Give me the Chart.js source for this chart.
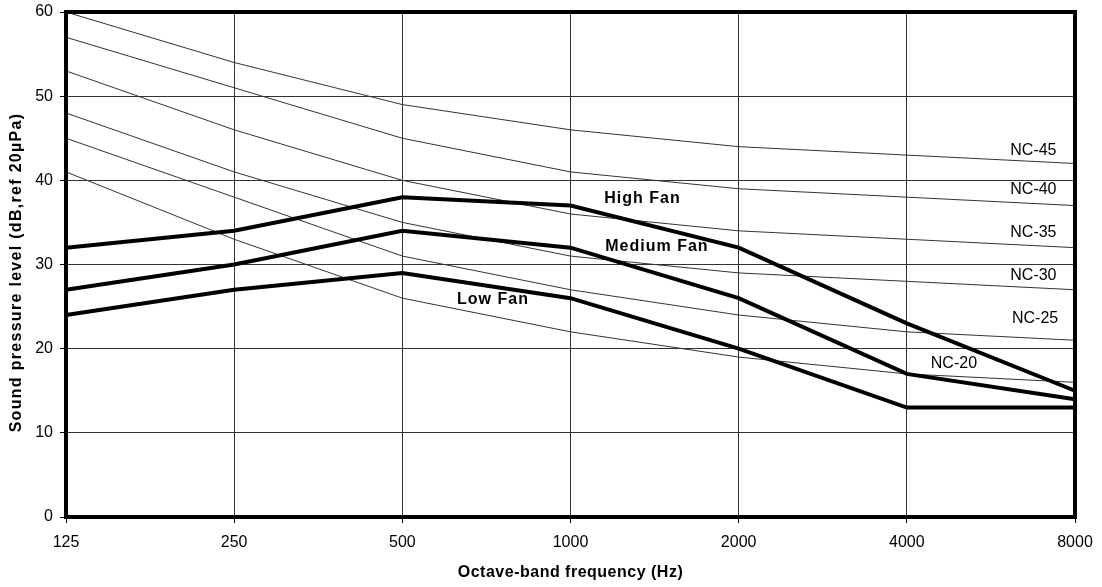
<!DOCTYPE html>
<html><head><meta charset="utf-8">
<script src="https://cdn.jsdelivr.net/npm/chart.js@4/dist/chart.umd.min.js"></script>
<style>html,body{margin:0;padding:0;background:#fff}#wrap{width:1102px;height:587px}</style>
</head><body><div id="wrap"><canvas id="c" width="1102" height="587"></canvas></div>
<script>
// ---- data ----
const frequencies = ['125', '250', '500', '1000', '2000', '4000', '8000'];
const yTicks = [0, 10, 20, 30, 40, 50, 60];

const nc45 = [60, 54, 49, 46, 44, 43, 42];
const nc40 = [57, 51, 45, 41, 39, 38, 37];
const nc35 = [53, 46, 40, 36, 34, 33, 32];
const nc30 = [48, 41, 35, 31, 29, 28, 27];
const nc25 = [45, 38, 31, 27, 24, 22, 21];
const nc20 = [41, 33, 26, 22, 19, 17, 16];

const highFan = [32, 34, 38, 37, 32, 23, 15];
const mediumFan = [27, 30, 34, 32, 26, 17, 14];
const lowFan = [24, 27, 29, 26, 20, 13, 13];

const xTitle = 'Octave-band frequency (Hz)';
const yTitle = 'Sound pressure level (dB,ref 20µPa)';

// text labels placed in data coordinates (x = category index, y = dB)
const curveLabels = [
  { text: 'High Fan', x: 3.428, y: 37.86, bold: true, align: 'center' },
  { text: 'Medium Fan', x: 3.514, y: 32.11, bold: true, align: 'center' },
  { text: 'Low Fan', x: 2.539, y: 25.78, bold: true, align: 'center' },
  { text: 'NC-45', x: 5.89, y: 43.52, bold: false, align: 'right' },
  { text: 'NC-40', x: 5.89, y: 38.93, bold: false, align: 'right' },
  { text: 'NC-35', x: 5.89, y: 33.78, bold: false, align: 'right' },
  { text: 'NC-30', x: 5.89, y: 28.67, bold: false, align: 'right' },
  { text: 'NC-25', x: 5.90, y: 23.61, bold: false, align: 'right' },
  { text: 'NC-20', x: 5.28, y: 18.26, bold: false, align: 'center' }
];

const FONT = "'Liberation Sans', Arial, sans-serif";

function ncSet(label, data) {
  return { label, data, borderColor: '#333', borderWidth: 1, pointRadius: 0, fill: false, tension: 0 };
}
function fanSet(label, data) {
  return { label, data, borderColor: '#000', borderWidth: 4, pointRadius: 0, fill: false, tension: 0, borderJoinStyle: 'miter' };
}

const labelPlugin = {
  id: 'curveLabels',
  afterDatasetsDraw(chart) {
    const { ctx, chartArea: a, scales: { x, y } } = chart;
    ctx.save();
    // frame
    ctx.strokeStyle = '#000';
    ctx.lineWidth = 4;
    ctx.strokeRect(a.left, a.top, a.right - a.left, a.bottom - a.top);
    // curve labels
    ctx.fillStyle = '#000';
    ctx.textBaseline = 'middle';
    curveLabels.forEach(l => {
      ctx.font = (l.bold ? 'bold 16px ' : '16px ') + FONT;
      ctx.letterSpacing = l.bold ? '1px' : '0px';
      ctx.textAlign = l.align;
      ctx.fillText(l.text, x.getPixelForValue(l.x), y.getPixelForValue(l.y));
    });
    // axis titles
    ctx.font = 'bold 16px ' + FONT;
    ctx.textAlign = 'center';
    ctx.letterSpacing = '0.5px';
    ctx.fillText(xTitle, (a.left + a.right) / 2, chart.height - 14);
    ctx.save();
    ctx.translate(17, (a.top + a.bottom) / 2 + 8);
    ctx.rotate(-Math.PI / 2);
    ctx.letterSpacing = '1.3px';
    ctx.fillText(yTitle, 0, 0);
    ctx.restore();
    ctx.restore();
  }
};

new Chart(document.getElementById('c'), {
  type: 'line',
  data: {
    labels: frequencies,
    datasets: [
      fanSet('High Fan', highFan),
      fanSet('Medium Fan', mediumFan),
      fanSet('Low Fan', lowFan),
      ncSet('NC-45', nc45),
      ncSet('NC-40', nc40),
      ncSet('NC-35', nc35),
      ncSet('NC-30', nc30),
      ncSet('NC-25', nc25),
      ncSet('NC-20', nc20)
    ]
  },
  options: {
    responsive: false,
    devicePixelRatio: 1,
    animation: false,
    layout: { padding: { left: 0, right: 27, top: 12, bottom: 0 } },
    plugins: { legend: { display: false }, tooltip: { enabled: false } },
    scales: {
      x: {
        type: 'category',
        offset: false,
        grid: { color: '#333', lineWidth: 1, drawTicks: true, tickLength: 6, tickColor: '#000', offset: false },
        border: { display: false },
        ticks: { color: '#000', font: { family: FONT, size: 16 }, padding: 10, maxRotation: 0, autoSkip: false },
        title: { display: false, text: xTitle },
        afterFit(s) { s.height = 70; s.paddingLeft = 0; s.paddingRight = 0; }
      },
      y: {
        min: 0, max: 60,
        afterBuildTicks(s) { s.ticks = yTicks.map(v => ({ value: v })); },
        grid: { color: '#333', lineWidth: 1, drawTicks: true, tickLength: 6, tickColor: '#000' },
        border: { display: false },
        ticks: { color: '#000', font: { family: FONT, size: 16 }, padding: 7 },
        title: { display: false, text: yTitle },
        afterFit(s) { s.width = 66; s.paddingTop = 0; s.paddingBottom = 0; }
      }
    }
  },
  plugins: [labelPlugin]
});
</script></body></html>
